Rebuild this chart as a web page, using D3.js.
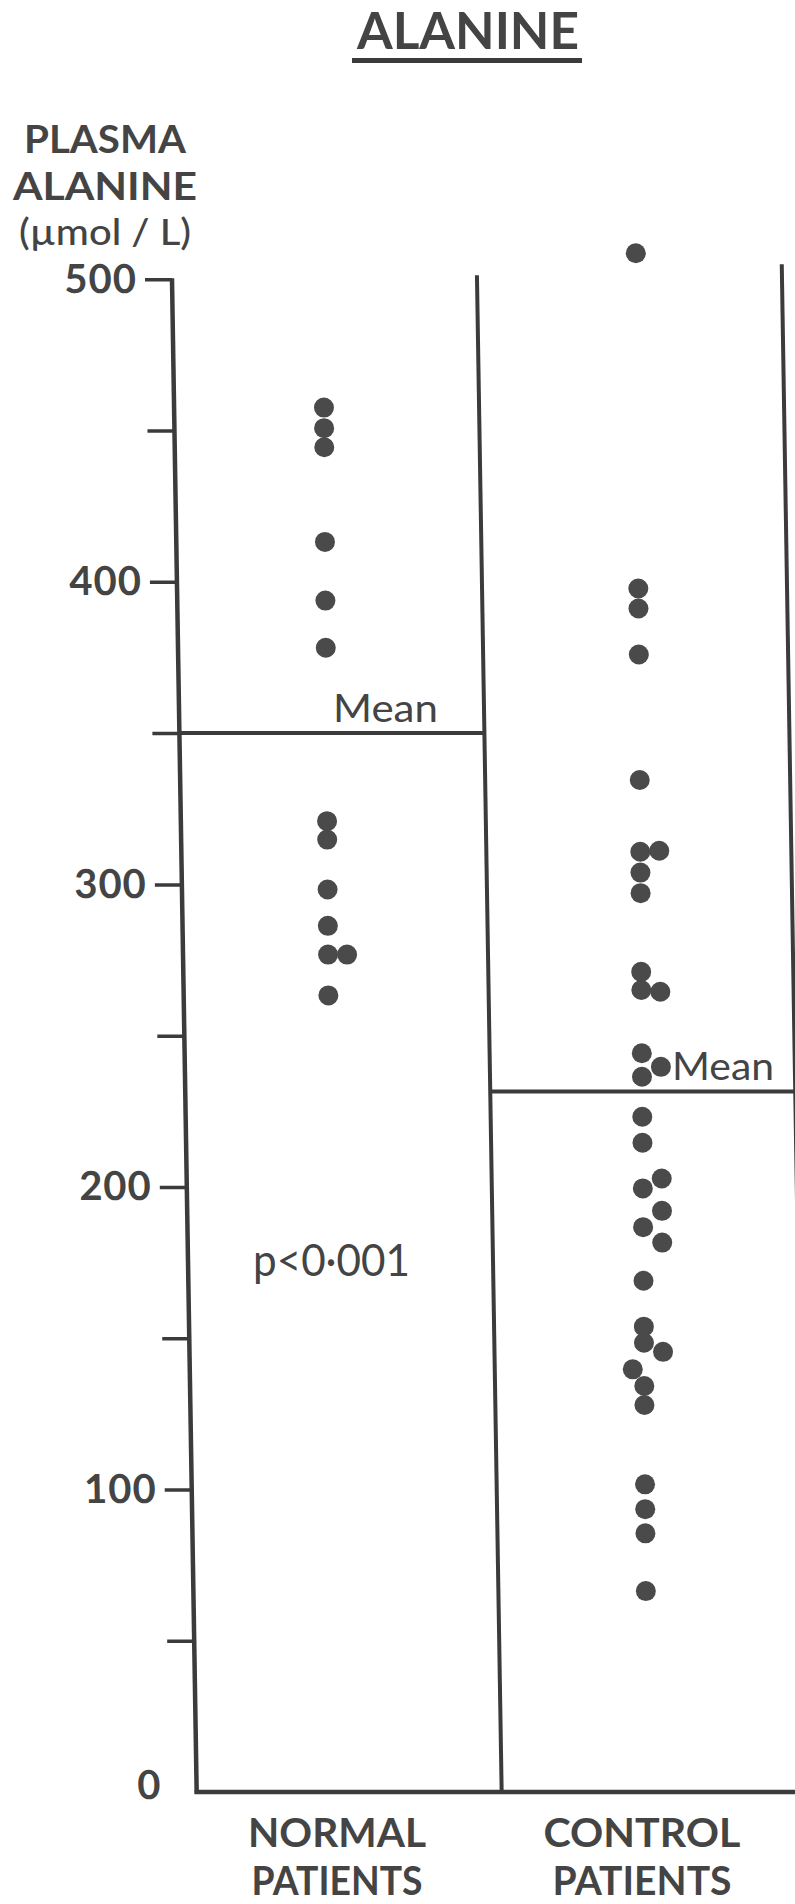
<!DOCTYPE html>
<html>
<head>
<meta charset="utf-8">
<script src="https://cdn.jsdelivr.net/npm/d3@7"></script>
<style>
  html, body { margin: 0; padding: 0; background: #fff; }
  svg { display: block; }
  text { font-family: Lato, "Open Sans", sans-serif; fill: #444; }
</style>
</head>
<body>
<svg id="chart" width="795" height="1904"></svg>
<script>
// ---------------- data ----------------
const chartTitle = "ALANINE";
const yTitleLines = ["PLASMA", "ALANINE", "(\u00b5mol / L)"];
const categories = ["NORMAL", "CONTROL"];
const categoryLabelLines = [["NORMAL", "PATIENTS"], ["CONTROL", "PATIENTS"]];
const majorTicks = [0, 100, 200, 300, 400, 500];
const minorTicks = [50, 150, 250, 350, 450];

const normalValues = [457.6, 450.8, 444.5, 413.2, 393.8, 378.2, 320.9, 314.8, 298.3, 286.3, 276.8, 276.8, 263.3];
const normalLanes  = [0, 0, 0, 0, 0, 0, 0, 0, 0, 0, 0, 1, 0];

const controlValues = [508.6, 397.8, 391.2, 376.0, 334.5, 310.8, 311.1, 303.9, 297.1, 271.1, 265.1, 264.5,
                       244.2, 239.7, 236.4, 223.2, 214.6, 202.8, 199.5, 192.1, 186.7, 181.6, 169.0,
                       153.8, 148.5, 145.5, 139.7, 134.2, 127.9, 101.7, 93.5, 85.5, 66.4];
const controlLanes  = [0, 0, 0, 0, 0, 0, 1, 0, 0, 0, 0, 1,
                       0, 1, 0, 0, 0, 1, 0, 1, 0, 1, 0,
                       0, 0, 1, -0.6, 0, 0, 0, 0, 0, 0];

const groupMeans = [350, 231.5];
const meanLabel = "Mean";
const pLabel = "p<0\u00b7001";

// ---------------- layout ----------------
const svg = d3.select("#chart");
const ink = "#3b3b3b";
const dotInk = "#4a4a4a";

const y = d3.scaleLinear().domain([0, 500]).range([1792, 279.3]);
const band = d3.scaleBand().domain(categories).range([172, 782]).paddingInner(0).paddingOuter(0);
const xDot = d3.scalePoint().domain(categories).range([323, 636]);
const dodge = 19;

const yRef = y(500);
const kFrame = 0.0163;   // the drawn frame leans slightly
const kDots = 0.0075;
const skew = k => `matrix(1,0,${k},1,${-k * yRef},0)`;

// title
svg.append("text")
  .attr("x", 468).attr("y", 49)
  .attr("text-anchor", "middle")
  .attr("font-size", 51).attr("font-weight", 700)
  .attr("textLength", 222).attr("lengthAdjust", "spacingAndGlyphs")
  .text(chartTitle);
svg.append("rect").attr("x", 352).attr("y", 58).attr("width", 230).attr("height", 5).attr("fill", ink);

// y title
const yTitleY = [153, 200, 245];
const yTitleW = [162, 184, 172];
const yTitleSize = [39, 39, 36];
yTitleLines.forEach((t, i) => {
  svg.append("text")
    .attr("x", 105).attr("y", yTitleY[i])
    .attr("text-anchor", "middle")
    .attr("font-size", yTitleSize[i]).attr("font-weight", i < 2 ? 700 : 500)
    .attr("textLength", yTitleW[i]).attr("lengthAdjust", "spacingAndGlyphs")
    .text(t);
});

// frame (skewed)
const frame = svg.append("g").attr("transform", skew(kFrame));

// left axis ticks
const axisMajor = d3.axisLeft(y).tickValues(majorTicks).tickSize(27).tickPadding(8).tickFormat(d3.format("d"));
const axisMinor = d3.axisLeft(y).tickValues(minorTicks).tickSize(27).tickFormat("");
const gMaj = frame.append("g").attr("transform", `translate(${band.range()[0]},0)`).call(axisMajor);
const gMin = frame.append("g").attr("transform", `translate(${band.range()[0]},0)`).call(axisMinor);
[gMaj, gMin].forEach(g => {
  g.select(".domain").remove();
  g.selectAll(".tick line").attr("stroke", ink).attr("stroke-width", 3.5);
});
gMaj.selectAll(".tick").filter(d => d === 0).select("line").remove();
gMaj.selectAll(".tick").filter(d => d === 0).attr("transform", `translate(0,${y(0) - 6})`);
gMaj.selectAll(".tick text")
  .attr("font-size", 40).attr("font-weight", 700)
  .attr("fill", "#444").attr("font-family", "Lato, sans-serif")
  .attr("letter-spacing", 1);

// vertical lines
const x0 = band.range()[0];
const xMid = band("CONTROL");
const xRight = band.range()[1];
frame.append("line").attr("x1", x0).attr("x2", x0).attr("y1", y(500) - 1).attr("y2", y(0) + 2)
  .attr("stroke", ink).attr("stroke-width", 4.5);
frame.append("line").attr("x1", xMid).attr("x2", xMid).attr("y1", y(500) - 4).attr("y2", y(0))
  .attr("stroke", ink).attr("stroke-width", 4);
frame.append("line").attr("x1", xRight).attr("x2", xRight).attr("y1", y(500) - 15).attr("y2", y(0))
  .attr("stroke", ink).attr("stroke-width", 4);
// baseline
frame.append("line").attr("x1", x0 - 2).attr("x2", 830).attr("y1", y(0)).attr("y2", y(0))
  .attr("stroke", ink).attr("stroke-width", 4.5);

// mean lines
frame.append("line")
  .attr("x1", x0).attr("x2", xMid)
  .attr("y1", y(groupMeans[0])).attr("y2", y(groupMeans[0]))
  .attr("stroke", ink).attr("stroke-width", 4);
frame.append("line")
  .attr("x1", xMid).attr("x2", xRight + 20)
  .attr("y1", y(groupMeans[1])).attr("y2", y(groupMeans[1]))
  .attr("stroke", ink).attr("stroke-width", 4);

// dots (own gentle lean)
const dotG = svg.append("g").attr("transform", skew(kDots));
const pts = [];
normalValues.forEach((v, i) => pts.push({ cat: "NORMAL", v, lane: normalLanes[i] }));
controlValues.forEach((v, i) => pts.push({ cat: "CONTROL", v, lane: controlLanes[i] }));
dotG.selectAll("circle").data(pts).join("circle")
  .attr("cx", d => xDot(d.cat) + d.lane * dodge)
  .attr("cy", d => y(d.v))
  .attr("r", 10)
  .attr("fill", dotInk);

// annotations
const annot = svg.append("g");
annot.append("text")
  .attr("x", 333).attr("y", y(groupMeans[0]) - 11)
  .attr("font-size", 39).attr("font-weight", 400)
  .attr("textLength", 105).attr("lengthAdjust", "spacingAndGlyphs")
  .text(meanLabel);
annot.append("text")
  .attr("x", 672).attr("y", y(groupMeans[1]) - 12)
  .attr("font-size", 39).attr("font-weight", 400)
  .attr("textLength", 102).attr("lengthAdjust", "spacingAndGlyphs")
  .text(meanLabel);
annot.append("text")
  .attr("x", 253).attr("y", 1276)
  .attr("font-size", 44).attr("font-weight", 400)
  .attr("textLength", 157).attr("lengthAdjust", "spacingAndGlyphs")
  .text(pLabel);

// category labels
const catCenter = [337, 642];
const catW = [[178, 171], [197, 179]];
const catBase = [1847, 1895];
categoryLabelLines.forEach((lines, ci) => {
  lines.forEach((t, li) => {
    svg.append("text")
      .attr("x", catCenter[ci]).attr("y", catBase[li])
      .attr("text-anchor", "middle")
      .attr("font-size", 40).attr("font-weight", 700)
      .attr("textLength", catW[ci][li]).attr("lengthAdjust", "spacingAndGlyphs")
      .text(t);
  });
});
</script>
</body>
</html>
